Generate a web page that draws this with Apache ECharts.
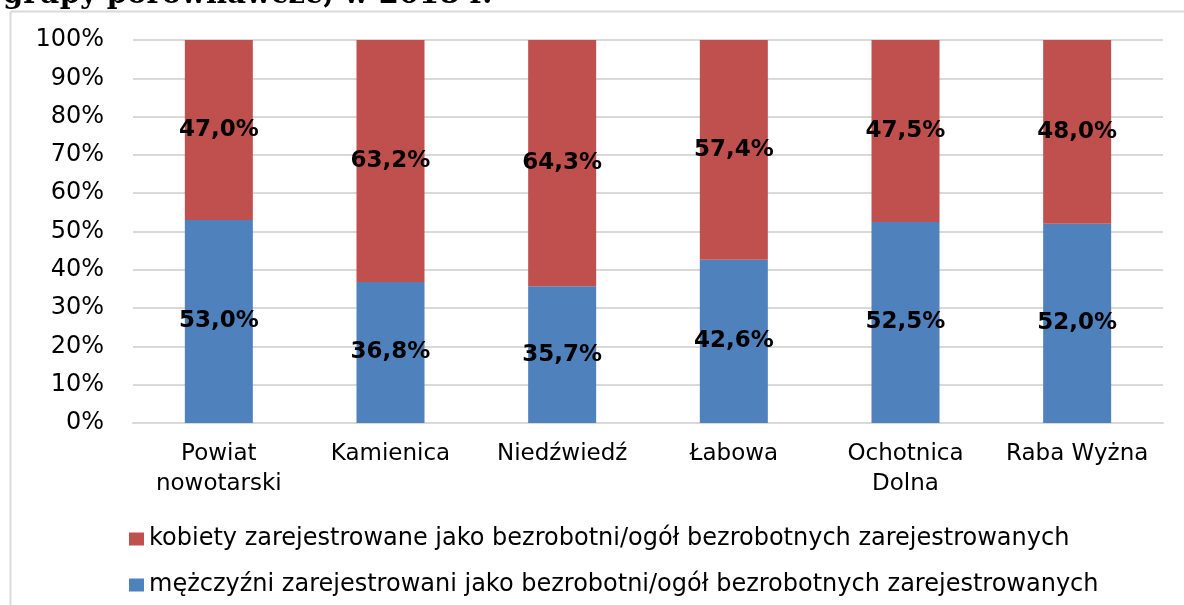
<!DOCTYPE html>
<html>
<head>
<meta charset="utf-8">
<script src="https://cdn.jsdelivr.net/npm/echarts@6/dist/echarts.min.js"></script>
<style>html,body{margin:0;padding:0;background:#fff;}#c{width:1184px;height:605px;}</style>
</head>
<body>
<div id="c"></div>
<script>
const categories = ['Powiat\nnowotarski', 'Kamienica', 'Niedźwiedź', 'Łabowa', 'Ochotnica\nDolna', 'Raba Wyżna'];
const menValues = [53.0, 36.8, 35.7, 42.6, 52.5, 52.0];
const womenValues = [47.0, 63.2, 64.3, 57.4, 47.5, 48.0];
const menName = 'mężczyźni zarejestrowani jako bezrobotni/ogół bezrobotnych zarejestrowanych';
const womenName = 'kobiety zarejestrowane jako bezrobotni/ogół bezrobotnych zarejestrowanych';
const titleText = 'grupy porównawcze, w 2018 r.';

const chart = echarts.init(document.getElementById('c'), null, {renderer: 'canvas'});
const labelStyle = {
  show: true,
  position: 'inside',
  color: '#000',
  fontFamily: 'DejaVu Sans',
  fontWeight: 'bold',
  fontSize: 23,
  formatter: p => p.value.toFixed(1).replace('.', ',') + '%'
};
const legendBase = {
  orient: 'horizontal',
  left: 124,
  itemWidth: 15,
  itemHeight: 13,
  icon: 'rect',
  textStyle: {fontFamily: 'DejaVu Sans', fontSize: 24, color: '#000'}
};
chart.setOption({
  animation: false,
  backgroundColor: '#fff',
  graphic: [
    {type: 'line', shape: {x1: 10.5, y1: 11.5, x2: 1184, y2: 11.5}, style: {stroke: '#D9D9D9', lineWidth: 2}},
    {type: 'line', shape: {x1: 10.5, y1: 11.5, x2: 10.5, y2: 605}, style: {stroke: '#D9D9D9', lineWidth: 2}},
    {type: 'text', x: 3, y: -19, style: {text: titleText, fontFamily: 'DejaVu Serif', fontWeight: 'bold', fontSize: 29, fill: '#000', verticalAlign: 'top'}}
  ],
  grid: {left: 133, right: 21, top: 40, bottom: 182, containLabel: false},
  legend: [
    Object.assign({}, legendBase, {top: 522, data: [womenName]}),
    Object.assign({}, legendBase, {top: 568, data: [menName]})
  ],
  xAxis: {
    type: 'category',
    data: categories,
    axisLine: {show: true, lineStyle: {color: '#D9D9D9', width: 2}},
    axisTick: {show: false},
    axisLabel: {fontFamily: 'DejaVu Sans', fontSize: 23, color: '#000', margin: 16, lineHeight: 30, interval: 0}
  },
  yAxis: {
    type: 'value',
    min: 0,
    max: 100,
    interval: 10,
    axisLine: {show: false},
    axisTick: {show: false},
    splitLine: {lineStyle: {color: '#D9D9D9', width: 2}},
    axisLabel: {formatter: '{value}%', fontFamily: 'DejaVu Sans', fontSize: 24, color: '#000', margin: 29}
  },
  series: [
    {name: menName, type: 'bar', stack: 's', data: menValues, barWidth: 68, itemStyle: {color: '#4F81BD'}, label: labelStyle},
    {name: womenName, type: 'bar', stack: 's', data: womenValues, barWidth: 68, itemStyle: {color: '#C0504D'}, label: labelStyle}
  ]
});
</script>
</body>
</html>
